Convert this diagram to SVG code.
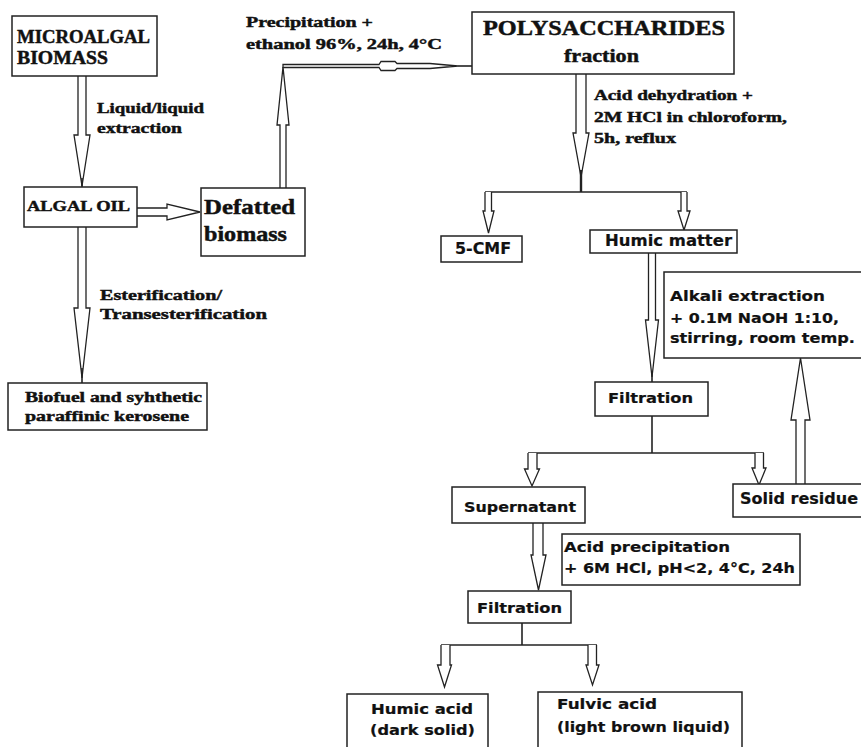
<svg xmlns="http://www.w3.org/2000/svg" width="861" height="747" viewBox="0 0 861 747">
<style>
.box{fill:#fff;stroke:#222;stroke-width:1.5}
.arr{fill:#fff;stroke:#222;stroke-width:1.3;stroke-linejoin:miter}
.ln{fill:none;stroke:#222;stroke-width:1.6}
.sf{font-family:"Liberation Serif","DejaVu Serif",serif;font-weight:700;fill:#111;stroke:#111;stroke-width:0.45}
.ss{font-family:"DejaVu Sans",Verdana,sans-serif;font-weight:700;fill:#111;stroke:#111;stroke-width:0.2}
</style>
<rect width="861" height="747" fill="#fff"/>

<g id="connectors">
  <path class="arr" d="M78,76 V135 H74 L82,186 L90,135 H86 V76"/>
  <line class="ln" x1="82" y1="178" x2="82" y2="187"/>
  <path class="arr" d="M78,227 V308 H74 L82,378 L90,308 H86 V227"/>
  <line class="ln" x1="82" y1="368" x2="82" y2="383"/>
  <path class="arr" d="M137,208 H167 V204 L200,212 L167,220 V216 H137"/>
  <path class="arr" d="M280,188 V125 H277 L283,67 L289,125 H286 V188"/>
  <path class="arr" d="M283,64.5 H379 L381,61.5 H395 L397,63.5 H430 L458,66 L430,68.5 H397 L395,70.5 H381 L379,67.5 H283 Z"/>
  <line class="ln" x1="458" y1="66" x2="472" y2="66"/>
  <path class="arr" d="M576,74 V133 H573 L581,177 L589,133 H586 V74"/>
  <line class="ln" x1="581" y1="170" x2="581" y2="192" style="stroke-width:2.4"/>
  <line class="ln" x1="485" y1="192" x2="687" y2="192"/>
  <path class="arr" d="M485,192 V211 H483 L488.5,233 L494,211 H491.5 V192"/>
  <path class="arr" d="M681,192 V211 H678 L684,230 L690,211 H687 V192"/>
  <path class="arr" d="M648.5,253 V320 H645.5 L652,377 L658.5,320 H655.5 V253"/>
  <line class="ln" x1="652" y1="372" x2="652" y2="382"/>
  <line class="ln" x1="652" y1="416" x2="652" y2="453"/>
  <line class="ln" x1="528" y1="453" x2="764" y2="453"/>
  <path class="arr" d="M528,453 V469 H524.5 L532,486 L539.5,469 H537 V453"/>
  <path class="arr" d="M755,453 V468 H752 L759,485 L766,468 H763.5 V453"/>
  <path class="arr" d="M796,484 V420 H791 L800.5,358 L810,420 H805 V484"/>
  <path class="arr" d="M533,523 V555 H531 L538.5,590 L546,555 H543 V523"/>
  <line class="ln" x1="522" y1="623" x2="522" y2="645"/>
  <line class="ln" x1="441" y1="645" x2="597" y2="645"/>
  <path class="arr" d="M441,645 V665 H437.5 L444.5,687 L451.5,665 H450 V645"/>
  <path class="arr" d="M588,645 V665 H586 L592.5,685 L599,665 H596.5 V645"/>
</g>

<g id="n-microalgal">
  <rect class="box" x="12" y="16" width="145" height="60"/>
  <text class="sf" x="17" y="43" font-size="18" textLength="133" lengthAdjust="spacingAndGlyphs">MICROALGAL</text>
  <text class="sf" x="17" y="64" font-size="18" textLength="91" lengthAdjust="spacingAndGlyphs">BIOMASS</text>
</g>
<g id="l-liquid">
  <text class="sf" x="97" y="113" font-size="15" textLength="107" lengthAdjust="spacingAndGlyphs">Liquid/liquid</text>
  <text class="sf" x="97" y="133" font-size="15" textLength="85" lengthAdjust="spacingAndGlyphs">extraction</text>
</g>
<g id="l-precip">
  <text class="sf" x="246" y="27" font-size="15" textLength="127" lengthAdjust="spacingAndGlyphs">Precipitation +</text>
  <text class="sf" x="246" y="49" font-size="15" textLength="196" lengthAdjust="spacingAndGlyphs">ethanol 96%, 24h, 4°C</text>
</g>
<g id="n-poly">
  <rect class="box" x="472" y="12" width="262" height="62"/>
  <text class="sf" x="483" y="35" font-size="20" textLength="242" lengthAdjust="spacingAndGlyphs">POLYSACCHARIDES</text>
  <text class="sf" x="564" y="62" font-size="19" textLength="75" lengthAdjust="spacingAndGlyphs">fraction</text>
</g>
<g id="l-acid-dehyd">
  <text class="sf" x="594" y="100" font-size="15" textLength="159" lengthAdjust="spacingAndGlyphs">Acid dehydration +</text>
  <text class="sf" x="594" y="122" font-size="15" textLength="193" lengthAdjust="spacingAndGlyphs">2M HCl in chloroform,</text>
  <text class="sf" x="594" y="143" font-size="15" textLength="82" lengthAdjust="spacingAndGlyphs">5h, reflux</text>
</g>
<g id="n-algal-oil">
  <rect class="box" x="24" y="187" width="113" height="40"/>
  <text class="sf" x="27" y="211" font-size="15" textLength="103" lengthAdjust="spacingAndGlyphs">ALGAL OIL</text>
</g>
<g id="n-defatted">
  <rect class="box" x="201" y="188" width="104" height="68"/>
  <text class="sf" x="204" y="214" font-size="21" textLength="91" lengthAdjust="spacingAndGlyphs">Defatted</text>
  <text class="sf" x="204" y="241" font-size="21" textLength="83" lengthAdjust="spacingAndGlyphs">biomass</text>
</g>
<g id="l-ester">
  <text class="sf" x="100" y="300" font-size="15" textLength="122" lengthAdjust="spacingAndGlyphs">Esterification/</text>
  <text class="sf" x="100" y="319" font-size="15" textLength="167" lengthAdjust="spacingAndGlyphs">Transesterification</text>
</g>
<g id="n-biofuel">
  <rect class="box" x="8" y="383" width="199" height="47"/>
  <text class="sf" x="25" y="402" font-size="15" textLength="177" lengthAdjust="spacingAndGlyphs">Biofuel and syhthetic</text>
  <text class="sf" x="25" y="421" font-size="15" textLength="164" lengthAdjust="spacingAndGlyphs">paraffinic kerosene</text>
</g>
<g id="n-5cmf">
  <rect class="box" x="441" y="236" width="81" height="26"/>
  <text class="ss" x="455" y="254" font-size="15" textLength="56" lengthAdjust="spacingAndGlyphs">5-CMF</text>
</g>
<g id="n-humic-matter">
  <rect class="box" x="590" y="230" width="147" height="23"/>
  <text class="ss" x="605" y="246" font-size="15" textLength="127" lengthAdjust="spacingAndGlyphs">Humic matter</text>
</g>
<g id="n-alkali">
  <rect class="box" x="664" y="272" width="210" height="86"/>
  <text class="ss" x="670" y="301" font-size="14" textLength="155" lengthAdjust="spacingAndGlyphs">Alkali extraction</text>
  <text class="ss" x="670" y="323" font-size="14" textLength="169" lengthAdjust="spacingAndGlyphs">+ 0.1M NaOH 1:10,</text>
  <text class="ss" x="670" y="343" font-size="14" textLength="185" lengthAdjust="spacingAndGlyphs">stirring, room temp.</text>
</g>
<g id="n-filtration1">
  <rect class="box" x="595" y="382" width="113" height="34"/>
  <text class="ss" x="608" y="403" font-size="14" textLength="85" lengthAdjust="spacingAndGlyphs">Filtration</text>
</g>
<g id="n-supernatant">
  <rect class="box" x="452" y="487" width="133" height="36"/>
  <text class="ss" x="464" y="512" font-size="14" textLength="112" lengthAdjust="spacingAndGlyphs">Supernatant</text>
</g>
<g id="n-solid-residue">
  <rect class="box" x="733" y="484" width="140" height="33"/>
  <text class="ss" x="740" y="504" font-size="15" textLength="118" lengthAdjust="spacingAndGlyphs">Solid residue</text>
</g>
<g id="n-acid-precip">
  <rect class="box" x="562" y="534" width="238" height="51"/>
  <text class="ss" x="564" y="552" font-size="14" textLength="166" lengthAdjust="spacingAndGlyphs">Acid precipitation</text>
  <text class="ss" x="564" y="573" font-size="14" textLength="231" lengthAdjust="spacingAndGlyphs">+ 6M HCl, pH&lt;2, 4°C, 24h</text>
</g>
<g id="n-filtration2">
  <rect class="box" x="468" y="591" width="103" height="32"/>
  <text class="ss" x="477" y="613" font-size="14" textLength="85" lengthAdjust="spacingAndGlyphs">Filtration</text>
</g>
<g id="n-humic-acid">
  <rect class="box" x="347" y="694" width="141" height="70"/>
  <text class="ss" x="371" y="714" font-size="14" textLength="102" lengthAdjust="spacingAndGlyphs">Humic acid</text>
  <text class="ss" x="370" y="735" font-size="14" textLength="105" lengthAdjust="spacingAndGlyphs">(dark solid)</text>
</g>
<g id="n-fulvic-acid">
  <rect class="box" x="538" y="692" width="204" height="70"/>
  <text class="ss" x="557" y="709" font-size="14" textLength="100" lengthAdjust="spacingAndGlyphs">Fulvic acid</text>
  <text class="ss" x="557" y="732" font-size="14" textLength="173" lengthAdjust="spacingAndGlyphs">(light brown liquid)</text>
</g>
</svg>
